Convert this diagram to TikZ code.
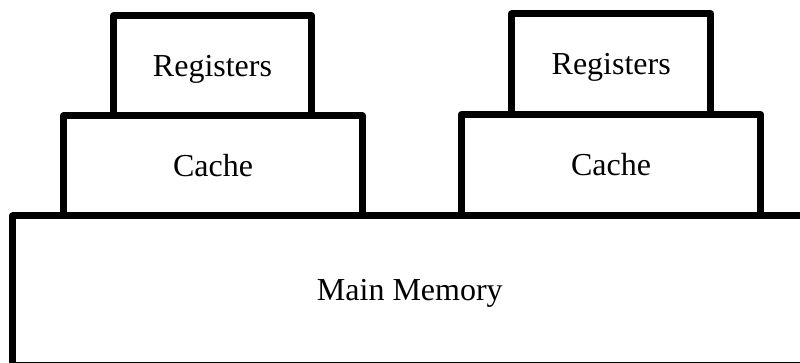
\documentclass[tikz,border=0pt]{standalone}
\usepackage{fontspec}
\setmainfont{Liberation Serif}
\begin{document}
\begin{tikzpicture}[x=1pt,y=-1pt,
  box/.style={draw=black,line width=7pt,line join=round,fill=white,inner sep=0pt,
    font=\fontsize{32}{36}\selectfont,text height=21pt,text depth=0pt}]
\useasboundingbox (0,0) rectangle (800,363);
\clip (0,0) rectangle (800,363);
\node[box,minimum width=794.3pt,minimum height=149pt] (mem) at (409.85,290.5) {Main Memory};
\node[box,minimum width=299pt,minimum height=100pt] (cacheL) at (213,166) {Cache};
\node[box,minimum width=198pt,minimum height=100pt] (regL) at (212.5,66) {Registers};
\node[box,minimum width=299.5pt,minimum height=100.8pt] (cacheR) at (611,165.1) {Cache};
\node[box,minimum width=199pt,minimum height=100.7pt] (regR) at (611.2,64.35) {Registers};
\end{tikzpicture}
\end{document}
